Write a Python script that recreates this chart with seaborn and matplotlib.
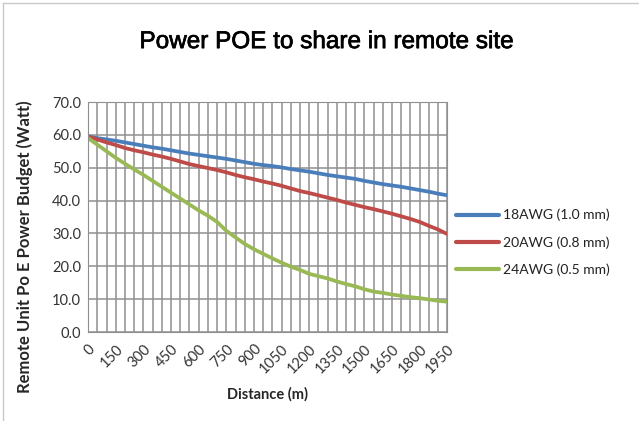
import matplotlib
matplotlib.use("Agg")
import matplotlib.pyplot as plt
import matplotlib.patheffects as pe
import numpy as np
import pandas as pd
import seaborn as sns

# distances in metres (one category every 50 m)
distance = list(range(0, 2000, 50))

awg18 = [59.5, 59.0, 58.6, 58.2, 57.7, 57.2, 56.7, 56.2, 55.8, 55.3,
         54.8, 54.3, 53.9, 53.5, 53.1, 52.7, 52.2, 51.7, 51.2, 50.8,
         50.5, 50.1, 49.6, 49.2, 48.8, 48.3, 47.8, 47.4, 47.0, 46.6,
         46.0, 45.5, 45.0, 44.6, 44.2, 43.7, 43.2, 42.7, 42.1, 41.6]
awg20 = [59.5, 58.6, 57.7, 56.9, 56.0, 55.3, 54.7, 54.0, 53.4, 52.7,
         51.9, 51.1, 50.5, 49.9, 49.3, 48.6, 47.8, 47.1, 46.5, 45.8,
         45.2, 44.5, 43.7, 42.9, 42.3, 41.6, 40.9, 40.2, 39.4, 38.7,
         38.0, 37.4, 36.7, 36.0, 35.2, 34.4, 33.5, 32.3, 31.2, 29.8]
awg24 = [59.0, 57.0, 55.0, 53.0, 51.2, 49.5, 47.8, 46.0, 44.2, 42.4,
         40.6, 38.8, 37.0, 35.4, 33.5, 30.8, 28.8, 26.8, 25.2, 23.8,
         22.4, 21.1, 19.9, 18.9, 17.7, 17.0, 16.3, 15.4, 14.6, 13.9,
         13.0, 12.3, 11.9, 11.4, 11.0, 10.6, 10.3, 9.9, 9.5, 9.2]

series_names = ["18AWG (1.0 mm)", "20AWG (0.8 mm)", "24AWG (0.5 mm)"]
colors = ["#4a7ebb", "#be4b48", "#98b954"]
xtick_labels = list(range(0, 2000, 150))

df = pd.DataFrame({
    "Distance": distance * 3,
    "Power": awg18 + awg20 + awg24,
    "Cable": [n for n in series_names for _ in distance],
})

sns.set_style("white")
plt.rcParams["font.family"] = ["Lato", "DejaVu Sans"]
plt.rcParams["text.color"] = "#222222"

fig = plt.figure(figsize=(6.39, 4.21), dpi=100)
ax = fig.add_axes([0.138, 0.2114, 0.562, 0.5463])

sns.lineplot(data=df, x="Distance", y="Power", hue="Cable",
             palette=colors, linewidth=2.7, ax=ax)

ax.set_xlim(0, 1950)
ax.set_ylim(0, 70)
ax.set_xticks(distance, minor=True)
ax.set_xticks(xtick_labels)
ax.set_xticklabels([str(v) for v in xtick_labels], rotation=45,
                   ha="right", rotation_mode="anchor", fontsize=10.5,
                   color="#333333")
ax.set_yticks(np.arange(0, 71, 10))
ax.set_yticklabels([f"{v:.1f}" for v in range(0, 71, 10)], fontsize=10.5,
                   color="#333333")
ax.tick_params(axis="x", which="both", length=0, pad=7)
ax.tick_params(axis="y", length=0, pad=5)
ax.grid(True, which="both", axis="x", color="#8f8f8f", linewidth=1.1)
ax.grid(True, which="major", axis="y", color="#8f8f8f", linewidth=1.1)
ax.set_axisbelow(True)
for s in ax.spines.values():
    s.set_color("#8f8f8f")

ax.set_xlabel("Distance (m)", fontsize=10.5, fontweight="bold", labelpad=8)
ax.set_ylabel("Remote Unit Po E Power Budget (Watt)", fontsize=12,
              fontweight="bold")
ax.yaxis.set_label_coords(-0.155, 0.37)

leg = ax.legend(loc="center left", bbox_to_anchor=(0.99, 0.39), frameon=False,
                fontsize=10, handlelength=3.1, handletextpad=0.25,
                labelspacing=1.05)
for line in leg.get_lines():
    line.set_linewidth(3)

fig.text(0.51, 0.9, "Power POE to share in remote site", ha="center", va="center",
         fontsize=17.5, family=["Liberation Sans", "DejaVu Sans"], color="black",
         path_effects=[pe.withStroke(linewidth=0.5, foreground="black")])

# faint outer chart border (left and top)
fig.add_artist(plt.Line2D([0.005, 0.005], [0, 0.993], color="#c8c8c8", linewidth=1))
fig.add_artist(plt.Line2D([0.005, 1], [0.993, 0.993], color="#c8c8c8", linewidth=1))

fig.savefig("out.png", dpi=100)
